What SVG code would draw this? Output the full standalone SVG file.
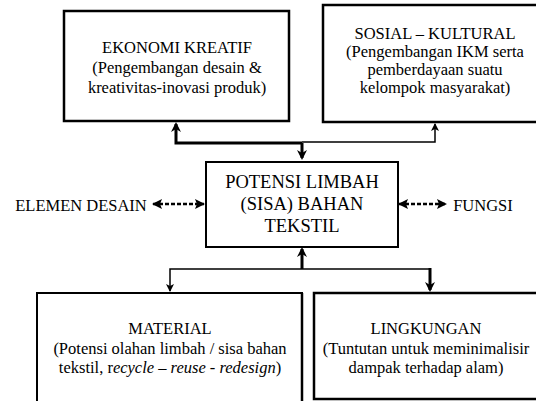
<svg xmlns="http://www.w3.org/2000/svg" width="536" height="401" viewBox="0 0 536 401">
<style>
text{font-family:"Liberation Serif","Times New Roman",serif;fill:#000;text-anchor:middle}
.t{font-size:16.5px}
.c{font-size:18.5px}
.box{fill:#fff;stroke:#000}
.thick{stroke:#000;stroke-width:3;fill:none}
.thin{stroke:#000;stroke-width:1.5;fill:none}
.dash{stroke:#000;stroke-width:2.5;fill:none;stroke-dasharray:4 2}
</style>
<defs>
<marker id="ah" markerUnits="userSpaceOnUse" markerWidth="10" markerHeight="10" refX="8" refY="5" orient="auto-start-reverse" viewBox="0 0 10 10">
<path d="M0,0 L10,5 L0,10 L3,5 Z" fill="#000"/>
</marker>
<marker id="ahs" markerUnits="userSpaceOnUse" markerWidth="8" markerHeight="8" refX="7" refY="4" orient="auto-start-reverse" viewBox="0 0 8 8">
<path d="M0,0 L8,4 L0,8 L2,4 Z" fill="#000"/>
</marker>
<marker id="ahd" markerUnits="userSpaceOnUse" markerWidth="10" markerHeight="10" refX="9" refY="5" orient="auto-start-reverse" viewBox="0 0 10 10">
<path d="M0,0 L10,5 L0,10 L2,5 Z" fill="#000"/>
</marker>
</defs>
<g id="connectors">
<polyline class="thick" points="302,143 302,158" marker-end="url(#ah)"/>
<polyline class="thick" points="302,143 176,143 176,124" marker-end="url(#ah)"/>
<polyline class="thin" points="302,142 435,142 435,124" marker-end="url(#ahs)"/>
<polyline class="thick" points="302,269 302,249" marker-end="url(#ah)"/>
<polyline class="thin" points="302,269 170,269 170,291" marker-end="url(#ahs)"/>
<polyline class="thin" points="302,269 430,269" stroke="#444"/>
<polyline class="thick" points="430,268 430,290" marker-end="url(#ah)"/>
<line class="dash" x1="153" y1="204" x2="204" y2="204" marker-start="url(#ahd)" marker-end="url(#ahd)"/>
<line class="dash" x1="399" y1="204" x2="446" y2="204" marker-start="url(#ahd)" marker-end="url(#ahd)"/>
</g>
<g id="ekonomi">
<rect class="box" x="64" y="11" width="225" height="110" stroke-width="2.5"/>
<text class="t" x="177" y="53">EKONOMI KREATIF</text>
<text class="t" x="177" y="73">(Pengembangan desain &amp;</text>
<text class="t" x="177" y="93">kreativitas-inovasi produk)</text>
</g>
<g id="sosial">
<rect class="box" x="323" y="5" width="220" height="117" stroke-width="2.5"/>
<text class="t" x="435" y="39">SOSIAL – KULTURAL</text>
<text class="t" x="435" y="57">(Pengembangan IKM serta</text>
<text class="t" x="435" y="75">pemberdayaan suatu</text>
<text class="t" x="435" y="93">kelompok masyarakat)</text>
</g>
<g id="potensi">
<rect class="box" x="206" y="162" width="192" height="85" stroke-width="2"/>
<text class="c" x="302" y="188">POTENSI LIMBAH</text>
<text class="c" x="302" y="210">(SISA) BAHAN</text>
<text class="c" x="302" y="232">TEKSTIL</text>
</g>
<g id="elemen">
<text class="t" x="81" y="211">ELEMEN DESAIN</text>
</g>
<g id="fungsi">
<text class="t" x="483" y="211">FUNGSI</text>
</g>
<g id="material">
<path d="M37,405 V293 H302 V405" fill="#fff" stroke="#000" stroke-width="2"/>
<line x1="302" y1="293" x2="302" y2="405" stroke="#000" stroke-width="2.5"/>
<text class="t" x="170" y="334">MATERIAL</text>
<text class="t" x="170" y="354">(Potensi olahan limbah / sisa bahan</text>
<text class="t" x="170" y="373">tekstil, r<tspan font-style="italic">ecycle</tspan> – <tspan font-style="italic">reuse</tspan> -  <tspan font-style="italic">redesign</tspan>)</text>
</g>
<g id="lingkungan">
<rect class="box" x="314" y="293" width="230" height="106" stroke-width="2.5"/>
<text class="t" x="426" y="334">LINGKUNGAN</text>
<text class="t" x="426" y="354">(Tuntutan untuk meminimalisir</text>
<text class="t" x="426" y="373">dampak terhadap alam)</text>
</g>
</svg>
